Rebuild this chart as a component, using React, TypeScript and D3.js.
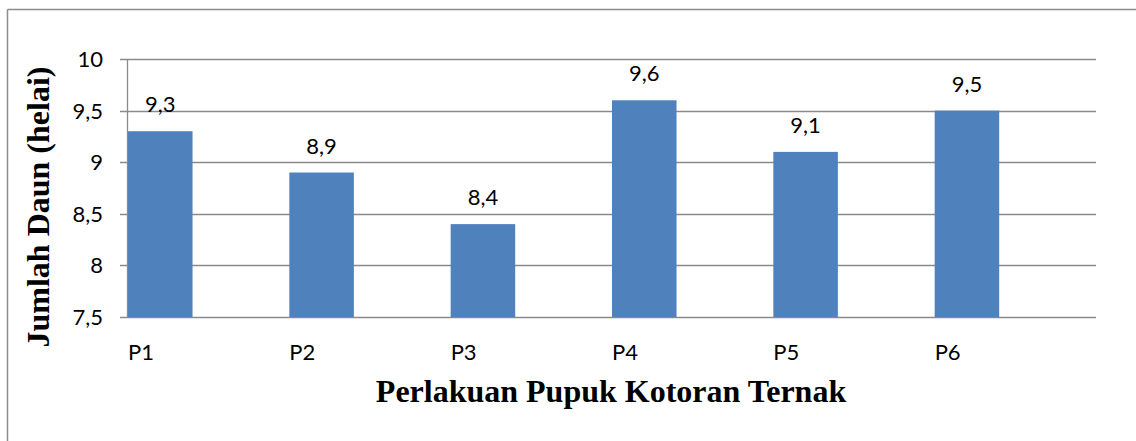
import React, { useEffect, useRef } from 'react';
import * as d3 from 'd3';

const categories = ['P1', 'P2', 'P3', 'P4', 'P5', 'P6'];
const values = [9.3, 8.9, 8.4, 9.6, 9.1, 9.5];
const yTicks = [7.5, 8, 8.5, 9, 9.5, 10];

const yTitle = 'Jumlah Daun (helai)';
const xTitle = 'Perlakuan Pupuk Kotoran Ternak';

const fmt = (v: number) => String(v).replace('.', ',');

export default function App() {
  const ref = useRef<SVGSVGElement>(null);

  useEffect(() => {
    const svg = d3.select(ref.current);
    svg.selectAll('*').remove();

    const left = 128;
    const right = 1096;
    const top = 59;
    const bottom = 317;
    const sans = 'Lato, "Open Sans", sans-serif';
    const serif = '"Liberation Serif", "Times New Roman", serif';

    // chart frame (only top and left edges show in the crop)
    svg.append('line').attr('x1', 7.5).attr('x2', 1136).attr('y1', 9.5).attr('y2', 9.5)
      .attr('stroke', '#8c8c8c').attr('stroke-width', 1.5);
    svg.append('line').attr('x1', 7.5).attr('x2', 7.5).attr('y1', 9.5).attr('y2', 441)
      .attr('stroke', '#8c8c8c').attr('stroke-width', 1.5);

    const y = d3.scaleLinear().domain([7.5, 10]).range([bottom, top]);
    const x = d3.scaleBand().domain(categories).range([left, right]).padding(0);
    const barW = x.bandwidth() * 0.4;

    // gridlines + tick marks
    svg.append('g').selectAll('line').data(yTicks).enter().append('line')
      .attr('x1', left - 8).attr('x2', right)
      .attr('y1', (d) => Math.round(y(d)) + 0.5).attr('y2', (d) => Math.round(y(d)) + 0.5)
      .attr('stroke', '#8a8a8a').attr('stroke-width', 1.3);

    // y axis line
    svg.append('line').attr('x1', left - 0.5).attr('x2', left - 0.5).attr('y1', top).attr('y2', bottom)
      .attr('stroke', '#8a8a8a').attr('stroke-width', 1.3);

    // y tick labels
    svg.append('g').selectAll('text').data(yTicks).enter().append('text')
      .attr('x', 103).attr('y', (d) => y(d)).attr('dy', '0.36em')
      .attr('text-anchor', 'end')
      .attr('font-family', sans).attr('font-size', 22)
      .text((d) => fmt(d));

    // bars
    svg.append('g').selectAll('rect').data(values).enter().append('rect')
      .attr('x', (_d, i) => x(categories[i]) as number)
      .attr('y', (d) => y(d))
      .attr('width', barW)
      .attr('height', (d) => bottom - y(d))
      .attr('fill', '#4f81bd');

    // value labels
    svg.append('g').selectAll('text').data(values).enter().append('text')
      .attr('x', (_d, i) => (x(categories[i]) as number) + barW / 2)
      .attr('y', (d) => y(d) - 19)
      .attr('text-anchor', 'middle')
      .attr('font-family', sans).attr('font-size', 22)
      .text((d) => fmt(d));

    // category labels
    svg.append('g').selectAll('text').data(categories).enter().append('text')
      .attr('x', (d) => x(d) as number)
      .attr('y', 360)
      .attr('font-family', sans).attr('font-size', 22)
      .text((d) => d);

    // axis titles
    svg.append('text')
      .attr('transform', 'translate(49, 207) rotate(-90)')
      .attr('text-anchor', 'middle')
      .attr('font-family', serif)
      .attr('font-weight', 'bold').attr('font-size', 32)
      .text(yTitle);

    svg.append('text')
      .attr('x', 611).attr('y', 402)
      .attr('text-anchor', 'middle')
      .attr('font-family', serif)
      .attr('font-weight', 'bold').attr('font-size', 32)
      .text(xTitle);
  }, []);

  return (
    <svg ref={ref} width={1136} height={441}
      style={{ position: 'absolute', left: 0, top: 0, background: '#fff' }} />
  );
}
